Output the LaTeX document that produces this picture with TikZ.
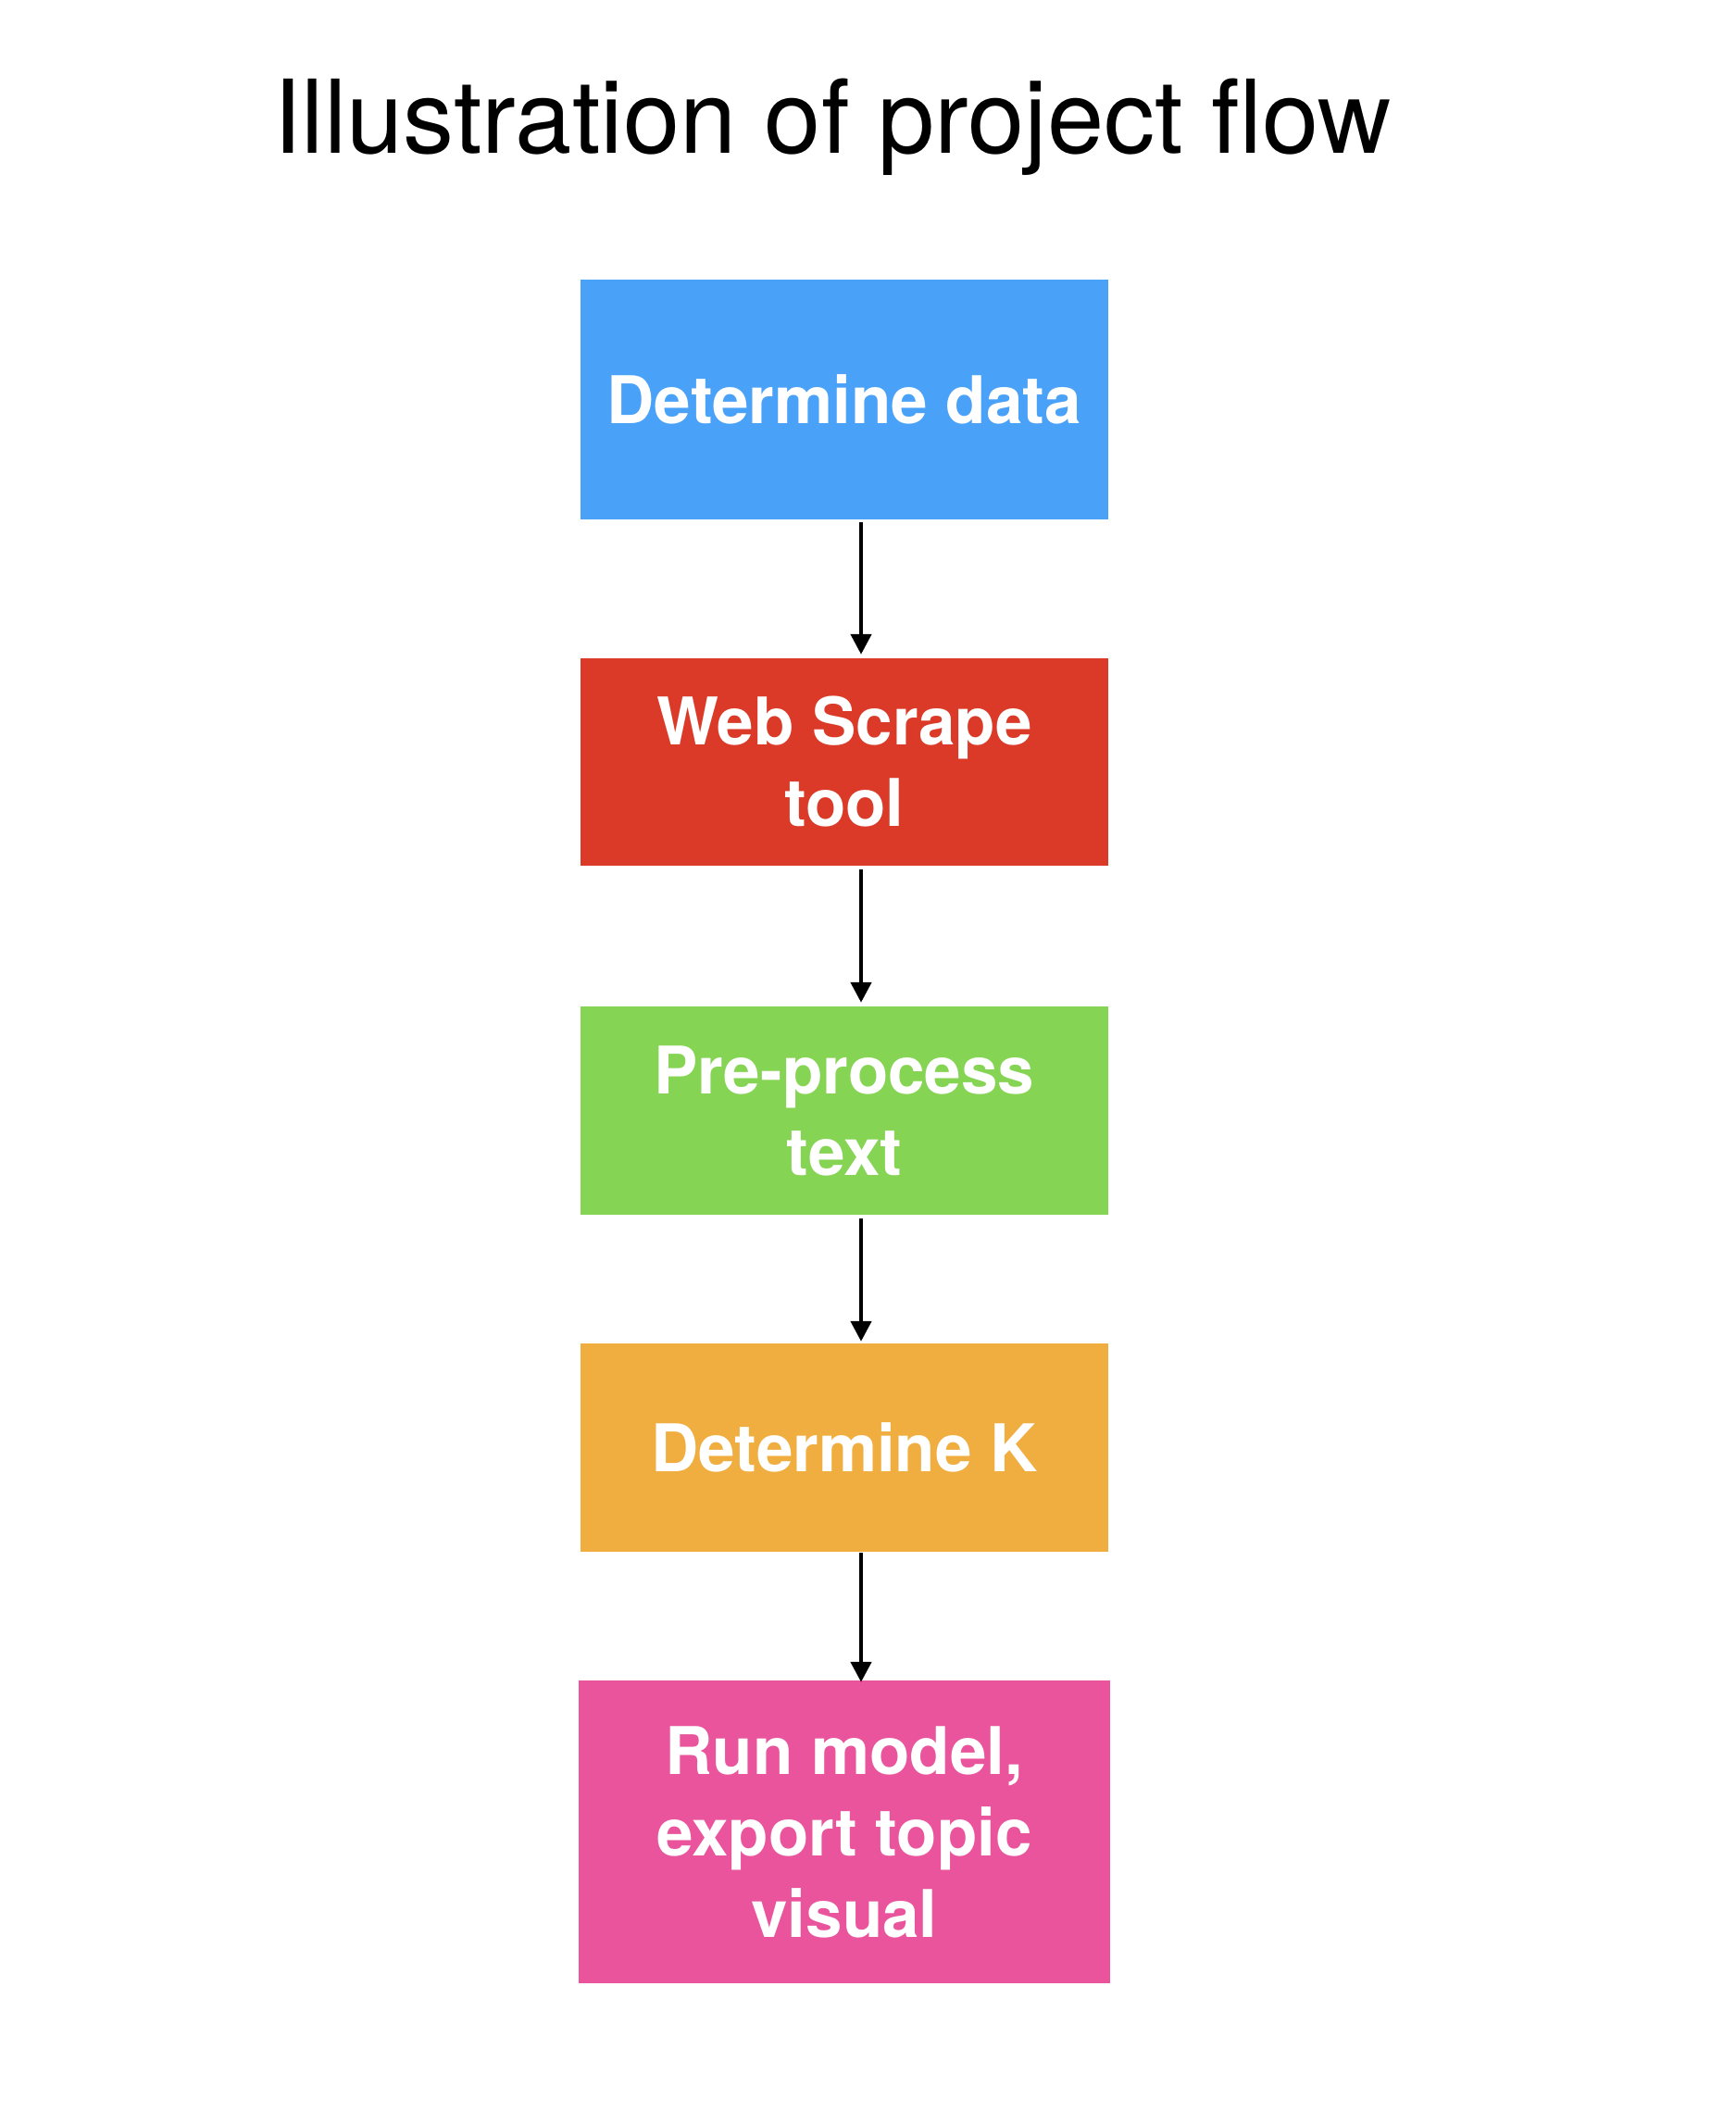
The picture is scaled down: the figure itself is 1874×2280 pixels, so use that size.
\documentclass[tikz,border=0pt]{standalone}
\usepackage{fontspec}
\setmainfont{TeX Gyre Heros}
\usetikzlibrary{arrows.meta}
\definecolor{cblue}{HTML}{4AA1F8}
\definecolor{cred}{HTML}{DA3A27}
\definecolor{cgreen}{HTML}{86D454}
\definecolor{corange}{HTML}{F0AE40}
\definecolor{cpink}{HTML}{E9549C}
\begin{document}
\begin{tikzpicture}[x=1pt,y=-1pt,
  stepbox/.style={rectangle, inner sep=0pt, minimum width=570pt, text=white,
    font=\fontsize{71}{88}\selectfont\bfseries, align=center},
  flow/.style={line width=4.5pt, -{Triangle[width=22pt,length=22pt]}}]
\useasboundingbox (0,0) rectangle (1874,2280);
\node[font=\fontsize{110}{132}\selectfont, anchor=base, inner sep=0pt] (title) at (899,165) {Illustration of project flow};
\node[stepbox, fill=cblue, minimum height=259pt] (b1) at (912,431.5) {Determine data};
\node[stepbox, fill=cred, minimum height=224pt] (b2) at (912,823) {Web Scrape\\tool};
\node[stepbox, fill=cgreen, minimum height=225pt] (b3) at (912,1199.5) {Pre-process\\text};
\node[stepbox, fill=corange, minimum height=225pt] (b4) at (912,1563.5) {Determine K};
\node[stepbox, fill=cpink, minimum height=327pt, minimum width=574pt] (b5) at (912,1978.5) {Run model,\\export topic\\visual};
\draw[flow] ([xshift=18pt,yshift=-3pt]b1.south) -- ([xshift=18pt,yshift=4pt]b2.north);
\draw[flow] ([xshift=18pt,yshift=-4pt]b2.south) -- ([xshift=18pt,yshift=4pt]b3.north);
\draw[flow] ([xshift=18pt,yshift=-4pt]b3.south) -- ([xshift=18pt,yshift=2pt]b4.north);
\draw[flow] ([xshift=18pt,yshift=-1pt]b4.south) -- ([xshift=18pt,yshift=-2pt]b5.north);
\end{tikzpicture}
\end{document}
